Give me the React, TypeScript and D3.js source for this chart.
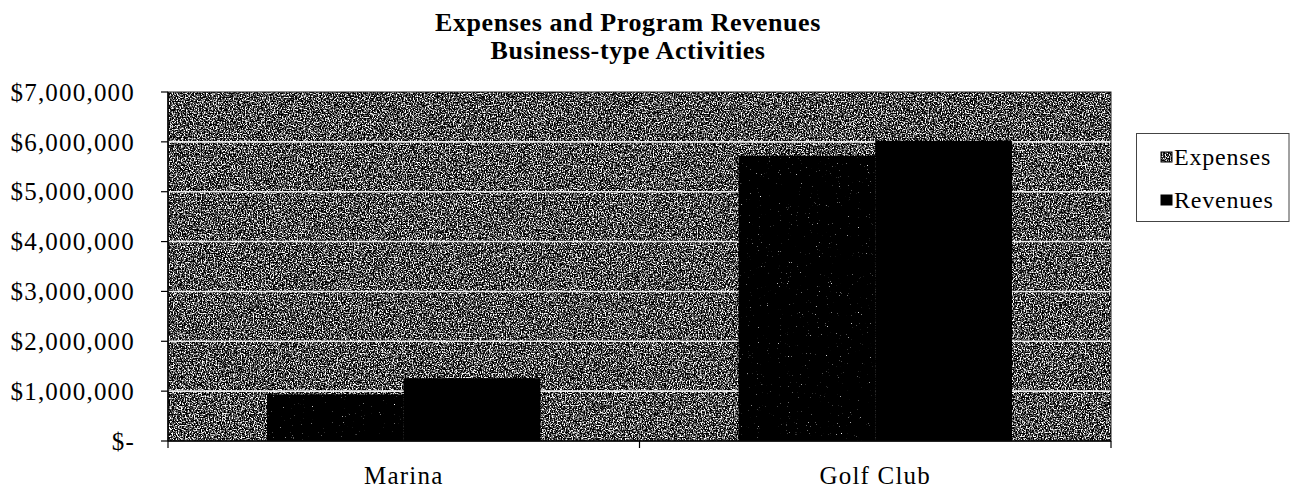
import React from "react";
import * as d3 from "d3";

// Chart data
const categories = ["Marina", "Golf Club"];
const seriesNames = ["Expenses", "Revenues"];
const expenses = [935000, 5720000];
const revenues = [1260000, 6020000];
const yTickValues = [0, 1000000, 2000000, 3000000, 4000000, 5000000, 6000000, 7000000];
const titleLines = ["Expenses and Program Revenues", "Business-type Activities"];

const W = 1291;
const H = 489;
const plot = { left: 168, right: 1111, top: 92, bottom: 441 };
const FONT = "'Liberation Serif', 'Times New Roman', serif";

const fmtMoney = (v: number) => (v === 0 ? "$-" : "$" + d3.format(",")(v));

export default function App() {
  const x0 = d3.scaleBand<string>().domain(categories).range([plot.left, plot.right]).padding(0);
  const bw = x0.bandwidth();
  const groupW = bw * 0.58;
  const x1 = d3
    .scaleBand<string>()
    .domain(seriesNames)
    .range([bw / 2 - groupW / 2, bw / 2 + groupW / 2])
    .padding(0);
  const y = d3.scaleLinear().domain([0, 7000000]).range([plot.bottom, plot.top]);

  const rows = categories.map((c, i) => ({ cat: c, vals: [expenses[i], revenues[i]] }));
  const xTicks = [plot.left, ...categories.slice(1).map((c) => x0(c) as number), plot.right];

  return (
    <svg
      width={W}
      height={H}
      style={{ position: "absolute", left: 0, top: 0, background: "#fff" }}
      fontFamily={FONT}
    >
      <defs>
        <filter id="grain" x="0" y="0" width="100%" height="100%" colorInterpolationFilters="sRGB">
          <feTurbulence type="fractalNoise" baseFrequency="0.75" numOctaves={2} seed={3} result="n" />
          <feColorMatrix
            in="n"
            type="matrix"
            values="1 0 0 0 0  1 0 0 0 0  1 0 0 0 0  0 0 0 0 1"
            result="g"
          />
          <feComponentTransfer in="g" result="c">
            <feFuncR type="linear" slope="4" intercept="-1.72" />
            <feFuncG type="linear" slope="4" intercept="-1.72" />
            <feFuncB type="linear" slope="4" intercept="-1.72" />
          </feComponentTransfer>
          <feComposite in="c" in2="SourceGraphic" operator="in" />
        </filter>
        <filter id="speckle" x="0" y="0" width="100%" height="100%" colorInterpolationFilters="sRGB">
          <feTurbulence type="fractalNoise" baseFrequency="0.9" numOctaves={2} seed={7} result="n" />
          <feColorMatrix
            in="n"
            type="matrix"
            values="1 0 0 0 0  1 0 0 0 0  1 0 0 0 0  0 0 0 0 1"
            result="g"
          />
          <feComponentTransfer in="g" result="c">
            <feFuncR type="linear" slope="6" intercept="-4.4" />
            <feFuncG type="linear" slope="6" intercept="-4.4" />
            <feFuncB type="linear" slope="6" intercept="-4.4" />
          </feComponentTransfer>
          <feComposite in="c" in2="SourceGraphic" operator="in" />
        </filter>
      </defs>

      {/* Title */}
      <g fontWeight="bold" fontSize={26} textAnchor="middle" fill="#000">
        {titleLines.map((t, i) => (
          <text key={t} x={628} y={31 + i * 28} letterSpacing={0.6}>
            {t}
          </text>
        ))}
      </g>

      {/* Plot area background */}
      <rect
        x={plot.left}
        y={plot.top}
        width={plot.right - plot.left}
        height={plot.bottom - plot.top}
        fill="#777"
        filter="url(#grain)"
      />

      {/* Gridlines */}
      {yTickValues.slice(1, -1).map((v) => (
        <line
          key={v}
          x1={plot.left}
          x2={plot.right}
          y1={y(v)}
          y2={y(v)}
          stroke="#ececec"
          strokeWidth={1.6}
        />
      ))}

      {/* Bars */}
      {rows.map((r) => (
        <g key={r.cat} transform={`translate(${x0(r.cat)},0)`}>
          {r.vals.map((v, j) => (
            <rect
              key={seriesNames[j]}
              x={x1(seriesNames[j])}
              y={y(v)}
              width={x1.bandwidth()}
              height={y(0) - y(v)}
              fill="#000"
              filter={j === 0 ? "url(#speckle)" : undefined}
            />
          ))}
        </g>
      ))}

      {/* Plot frame */}
      <rect
        x={plot.left}
        y={plot.top}
        width={plot.right - plot.left}
        height={plot.bottom - plot.top}
        fill="none"
        stroke="#222"
        strokeWidth={1}
      />
      <line x1={plot.left} x2={plot.left} y1={plot.top} y2={plot.bottom} stroke="#000" strokeWidth={1.5} />
      <line x1={plot.left} x2={plot.right} y1={plot.bottom} y2={plot.bottom} stroke="#000" strokeWidth={1.5} />

      {/* Y axis ticks and labels */}
      {yTickValues.map((v) => (
        <g key={v}>
          <line x1={plot.left - 7} x2={plot.left} y1={y(v)} y2={y(v)} stroke="#000" strokeWidth={1.2} />
          <text x={135} y={y(v)} dy="0.35em" textAnchor="end" fontSize={25} letterSpacing={1.2}>
            {fmtMoney(v)}
          </text>
        </g>
      ))}

      {/* X axis ticks and labels */}
      {xTicks.map((t) => (
        <line key={t} x1={t} x2={t} y1={plot.bottom} y2={plot.bottom + 7} stroke="#000" strokeWidth={1.2} />
      ))}
      {categories.map((c) => (
        <text
          key={c}
          x={(x0(c) as number) + bw / 2}
          y={484}
          textAnchor="middle"
          fontSize={25}
          letterSpacing={1.2}
        >
          {c}
        </text>
      ))}

      {/* Legend */}
      <g>
        <rect x={1136.5} y={133.5} width={152.5} height={88} fill="#fff" stroke="#444" strokeWidth={1} />
        {seriesNames.map((s, i) => {
          const cy = 157 + i * 43;
          return (
            <g key={s}>
              <rect
                x={1161}
                y={cy - 5}
                width={11}
                height={10}
                fill={i === 0 ? "#888" : "#000"}
                filter={i === 0 ? "url(#grain)" : undefined}
              />
              <rect x={1161} y={cy - 5} width={11} height={10} fill="none" stroke="#000" strokeWidth={1} />
              <text x={1174} y={cy} dy="0.35em" fontSize={24} letterSpacing={0.8}>
                {s}
              </text>
            </g>
          );
        })}
      </g>
    </svg>
  );
}
